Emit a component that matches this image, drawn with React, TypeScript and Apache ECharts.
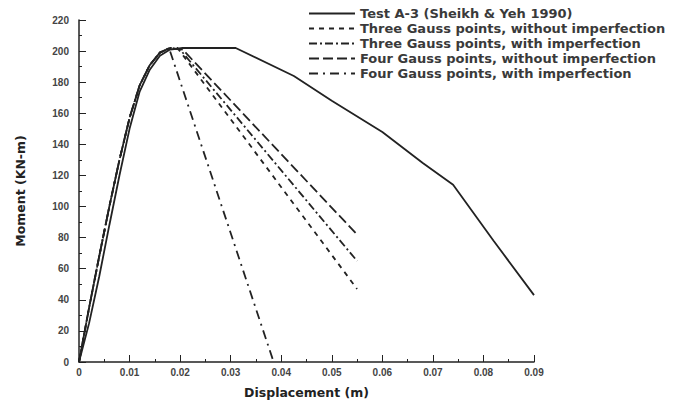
import React, { useEffect, useRef } from "react";
import * as echarts from "echarts";

const testA3: [number, number][] = [
  [0, 0], [0.002, 25], [0.004, 55], [0.006, 88], [0.008, 120], [0.010, 150],
  [0.012, 174], [0.014, 188], [0.016, 197], [0.018, 201], [0.0205, 202],
  [0.031, 202], [0.0425, 184], [0.05, 168], [0.06, 148], [0.068, 128],
  [0.074, 114], [0.082, 78], [0.09, 43],
];
const threeNoImp: [number, number][] = [
  [0, 0], [0.002, 35], [0.004, 68], [0.006, 100], [0.008, 130], [0.010, 157],
  [0.012, 178], [0.014, 191], [0.016, 199], [0.018, 202], [0.0195, 202],
  [0.055, 47],
];
const threeImp: [number, number][] = [
  [0, 0], [0.002, 35], [0.004, 68], [0.006, 100], [0.008, 130], [0.010, 157],
  [0.012, 178], [0.014, 191], [0.016, 199], [0.018, 202], [0.02, 201],
  [0.055, 65],
];
const fourNoImp: [number, number][] = [
  [0, 0], [0.002, 35], [0.004, 68], [0.006, 100], [0.008, 130], [0.010, 157],
  [0.012, 178], [0.014, 191], [0.016, 199], [0.018, 202], [0.0205, 201],
  [0.055, 82],
];
const fourImp: [number, number][] = [
  [0, 0], [0.002, 35], [0.004, 68], [0.006, 100], [0.008, 130], [0.010, 157],
  [0.012, 178], [0.014, 191], [0.016, 199], [0.0178, 202], [0.0385, 0],
];

const seriesNames = [
  "Test A-3 (Sheikh & Yeh 1990)",
  "Three Gauss points, without imperfection",
  "Three Gauss points, with imperfection",
  "Four Gauss points, without imperfection",
  "Four Gauss points, with imperfection",
];

export default function App() {
  const ref = useRef<HTMLDivElement>(null);
  useEffect(() => {
    if (!ref.current) return;
    const chart = echarts.init(ref.current, undefined, { renderer: "svg" });
    const font = "Liberation Sans, Arial, sans-serif";
    const wide = "DejaVu Sans, sans-serif";
    const mk = (name: string, data: [number, number][], type: any, z = 2) => ({
      name,
      type: "line",
      data,
      symbol: "none",
      z,
      color: "#222",
      itemStyle: { color: "#222" },
      lineStyle: { color: "#222", width: 1.8, type },
    });
    chart.setOption({
      animation: false,
      backgroundColor: "#fff",
      grid: { left: 79, right: 141, top: 20, bottom: 41 },
      legend: {
        left: 303,
        top: 2,
        orient: "vertical",
        itemWidth: 46,
        itemHeight: 10,
        itemGap: 2,
        itemStyle: { opacity: 0 },
        textStyle: { fontFamily: wide, fontSize: 13, fontWeight: "bold", color: "#3a3a3a" },
        data: seriesNames,
      },
      xAxis: {
        type: "value",
        min: 0,
        max: 0.09,
        interval: 0.01,
        name: "Displacement (m)",
        nameLocation: "middle",
        nameGap: 24,
        nameTextStyle: { fontFamily: wide, fontSize: 12.5, fontWeight: "bold", color: "#222" },
        axisLine: { lineStyle: { color: "#222", width: 1.5 } },
        axisTick: { inside: true, length: 7, lineStyle: { color: "#222" } },
        minorTick: { show: true, splitNumber: 2, length: 3, lineStyle: { color: "#222" } },
        splitLine: { show: false },
        axisLabel: {
          fontFamily: font, fontSize: 10, fontWeight: "bold", color: "#444", margin: 5,
          formatter: (v: number) => (v === 0 ? "0" : v.toFixed(2)),
        },
      },
      yAxis: {
        type: "value",
        min: 0,
        max: 220,
        interval: 20,
        name: "Moment (KN-m)",
        nameLocation: "middle",
        nameGap: 52,
        nameTextStyle: { fontFamily: wide, fontSize: 12.5, fontWeight: "bold", color: "#222" },
        axisLine: { show: true, lineStyle: { color: "#222", width: 1.5 } },
        axisTick: { show: true, inside: true, length: 7, lineStyle: { color: "#222" } },
        minorTick: { show: true, splitNumber: 2, length: 3, lineStyle: { color: "#222" } },
        splitLine: { show: false },
        axisLabel: { fontFamily: font, fontSize: 10, fontWeight: "bold", color: "#444", margin: 10 },
      },
      series: [
        mk(seriesNames[0], testA3, "solid", 5),
        mk(seriesNames[1], threeNoImp, [5, 5]),
        mk(seriesNames[2], threeImp, [8, 3, 2, 3]),
        mk(seriesNames[3], fourNoImp, [10, 4]),
        mk(seriesNames[4], fourImp, [9, 5, 2, 5]),
      ],
    });
    return () => chart.dispose();
  }, []);
  return <div ref={ref} style={{ width: 675, height: 404, marginLeft: -8, marginTop: -8 }} />;
}
